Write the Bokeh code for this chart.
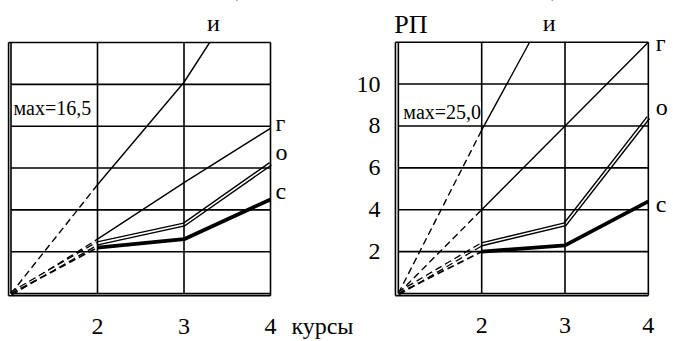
from bokeh.plotting import figure
from bokeh.models import LinearAxis, FixedTicker, Range1d, NumeralTickFormatter
from bokeh.core.properties import value
from bokeh.layouts import row
from bokeh.embed import file_html
from bokeh.resources import INLINE

# ---- data ----
courses = [1, 2, 3, 4]
x_ticks = [2, 3, 4]
y_ticks = [2, 4, 6, 8, 10]
Y_MAX = 12

i_left = [0, 5.2, 10.1, 16.5]
g_left = [0, 2.6, 5.3, 7.9]
o_left = [0, 2.4, 3.3, 6.2]
s_left = [0, 2.2, 2.6, 4.5]

i_right = [0, 7.8, 15.1, 25.0]
g_right = [0, 4.0, 8.0, 12.0]
o_right = [0, 2.35, 3.3, 8.4]
s_right = [0, 2.0, 2.3, 4.4]

series_names = ["и", "г", "о", "с"]
x_label = "курсы"
y_label = "РП"

FONT = "Liberation Serif"
INK = "black"
LABEL_SIZE = "24px"


def txt(p, x, y, text, size=LABEL_SIZE, align="left", bg=None):
    kw = {}
    if bg:
        kw = dict(background_fill_color=bg)
    p.text(x=[x], y=[y], text=[text], text_font=value(FONT), text_font_size=size,
           text_align=align, text_baseline="middle", text_color=INK, **kw)


def make_panel(width, height, xr, yr, borders, data, show_y, pads, label_dx, label_dy,
               i_pos, max_pos, extra_ticks):
    bl, bb = borders
    p = figure(width=width, height=height, output_backend="svg", toolbar_location=None,
               x_axis_location=None, y_axis_location=None,
               x_range=Range1d(*xr), y_range=Range1d(*yr),
               min_border_left=bl, min_border_right=0, min_border_top=0, min_border_bottom=bb,
               background_fill_color="white", border_fill_color="white")
    p.outline_line_color = None
    for g in p.grid:
        g.visible = False

    ticks = x_ticks + [t for t, _ in extra_ticks]
    xa = LinearAxis(ticker=FixedTicker(ticks=ticks), axis_line_color=None,
                    major_tick_line_color=None, minor_tick_line_color=None,
                    formatter=NumeralTickFormatter(format="0"),
                    major_label_overrides={t: s for t, s in extra_ticks},
                    major_label_standoff=pads[2], major_label_text_font=FONT,
                    major_label_text_font_size=LABEL_SIZE, major_label_text_color=INK)
    p.add_layout(xa, "below")
    if show_y:
        ya = LinearAxis(ticker=FixedTicker(ticks=y_ticks), axis_line_color=None,
                        major_tick_line_color=None, minor_tick_line_color=None,
                        formatter=NumeralTickFormatter(format="0"),
                        major_label_standoff=7, major_label_text_font=FONT,
                        major_label_text_font_size=LABEL_SIZE, major_label_text_color=INK)
        p.add_layout(ya, "left")

    x0, x1 = courses[0], courses[-1]
    i_v, g_v, o_v, s_v = data
    # thin lines
    for vals in (i_v, g_v):
        p.line(courses[:2], vals[:2], line_color=INK, line_width=1.4, line_dash="7 4")
        p.line(courses[1:], vals[1:], line_color=INK, line_width=1.4)
    # double line
    p.line(courses[:2], o_v[:2], line_color=INK, line_width=4.2, line_dash="7 4")
    p.line(courses[:2], o_v[:2], line_color="white", line_width=1.6, line_dash="7 4")
    p.line(courses[1:], o_v[1:], line_color=INK, line_width=4.4, line_join="miter")
    p.line(courses[1:], o_v[1:], line_color="white", line_width=1.6, line_join="miter")
    # thick line
    p.line(courses[:2], s_v[:2], line_color=INK, line_width=1.7, line_dash="7 4")
    p.line(courses[1:], s_v[1:], line_color=INK, line_width=3.8)

    # mask everything above the chart box
    p.quad(left=[xr[0]], right=[xr[1]], bottom=[Y_MAX], top=[yr[1]],
           fill_color="white", line_color=None)

    # grid
    p.segment(x0=[x0] * len(y_ticks), x1=[x1] * len(y_ticks), y0=y_ticks, y1=y_ticks,
              line_color=INK, line_width=1.6)
    p.segment(x0=x_ticks[:-1], x1=x_ticks[:-1], y0=[0] * 2, y1=[Y_MAX] * 2,
              line_color=INK, line_width=1.6)
    # frame (double at left and bottom)
    px, py = pads[0], pads[1]
    p.segment(x0=[x0, x0 - px, x1, x0 - px, x0, x0 - px],
              x1=[x0, x0 - px, x1, x1, x1, x1],
              y0=[0, -py, -py, Y_MAX, 0, -py],
              y1=[Y_MAX, Y_MAX, Y_MAX, Y_MAX, 0, -py],
              line_color=INK, line_width=1.6)

    # texts
    mx = ("%.1f" % max(i_v)).replace(".", ",")
    txt(p, max_pos[0], max_pos[1], "мах=" + mx, size="20px", bg="white")
    txt(p, i_pos[0], i_pos[1], series_names[0], align="center")
    for name, vals, dy in zip(series_names[1:], (g_v, o_v, s_v), label_dy):
        txt(p, x1 + label_dx, min(vals[-1], Y_MAX) + dy, name)
    return p


# left panel
p1 = make_panel(353, 341, (0.8786, 4.9595), (-0.187, 14.007), (0, 37),
                (i_left, g_left, o_left, s_left), False, (0.028, 0.1, 9),
                0.058, (0.23, 0.57, 0.4), (3.34, 12.93), (1.03, 8.87), [(4.62, x_label)])

# right panel
p2 = make_panel(320, 341, (0.9417, 4.302), (-0.19, 13.99), (32, 42),
                (i_right, g_right, o_right, s_right), True, (0.035, 0.1, 14),
                0.09, (-0.05, 0.52, -0.14), (2.81, 12.9), (1.06, 8.68), [])
txt(p2, 1.15, 12.85, y_label, size="26px", align="center")

layout = row(p1, p2)
open("out.html", "w").write(file_html(layout, INLINE))
